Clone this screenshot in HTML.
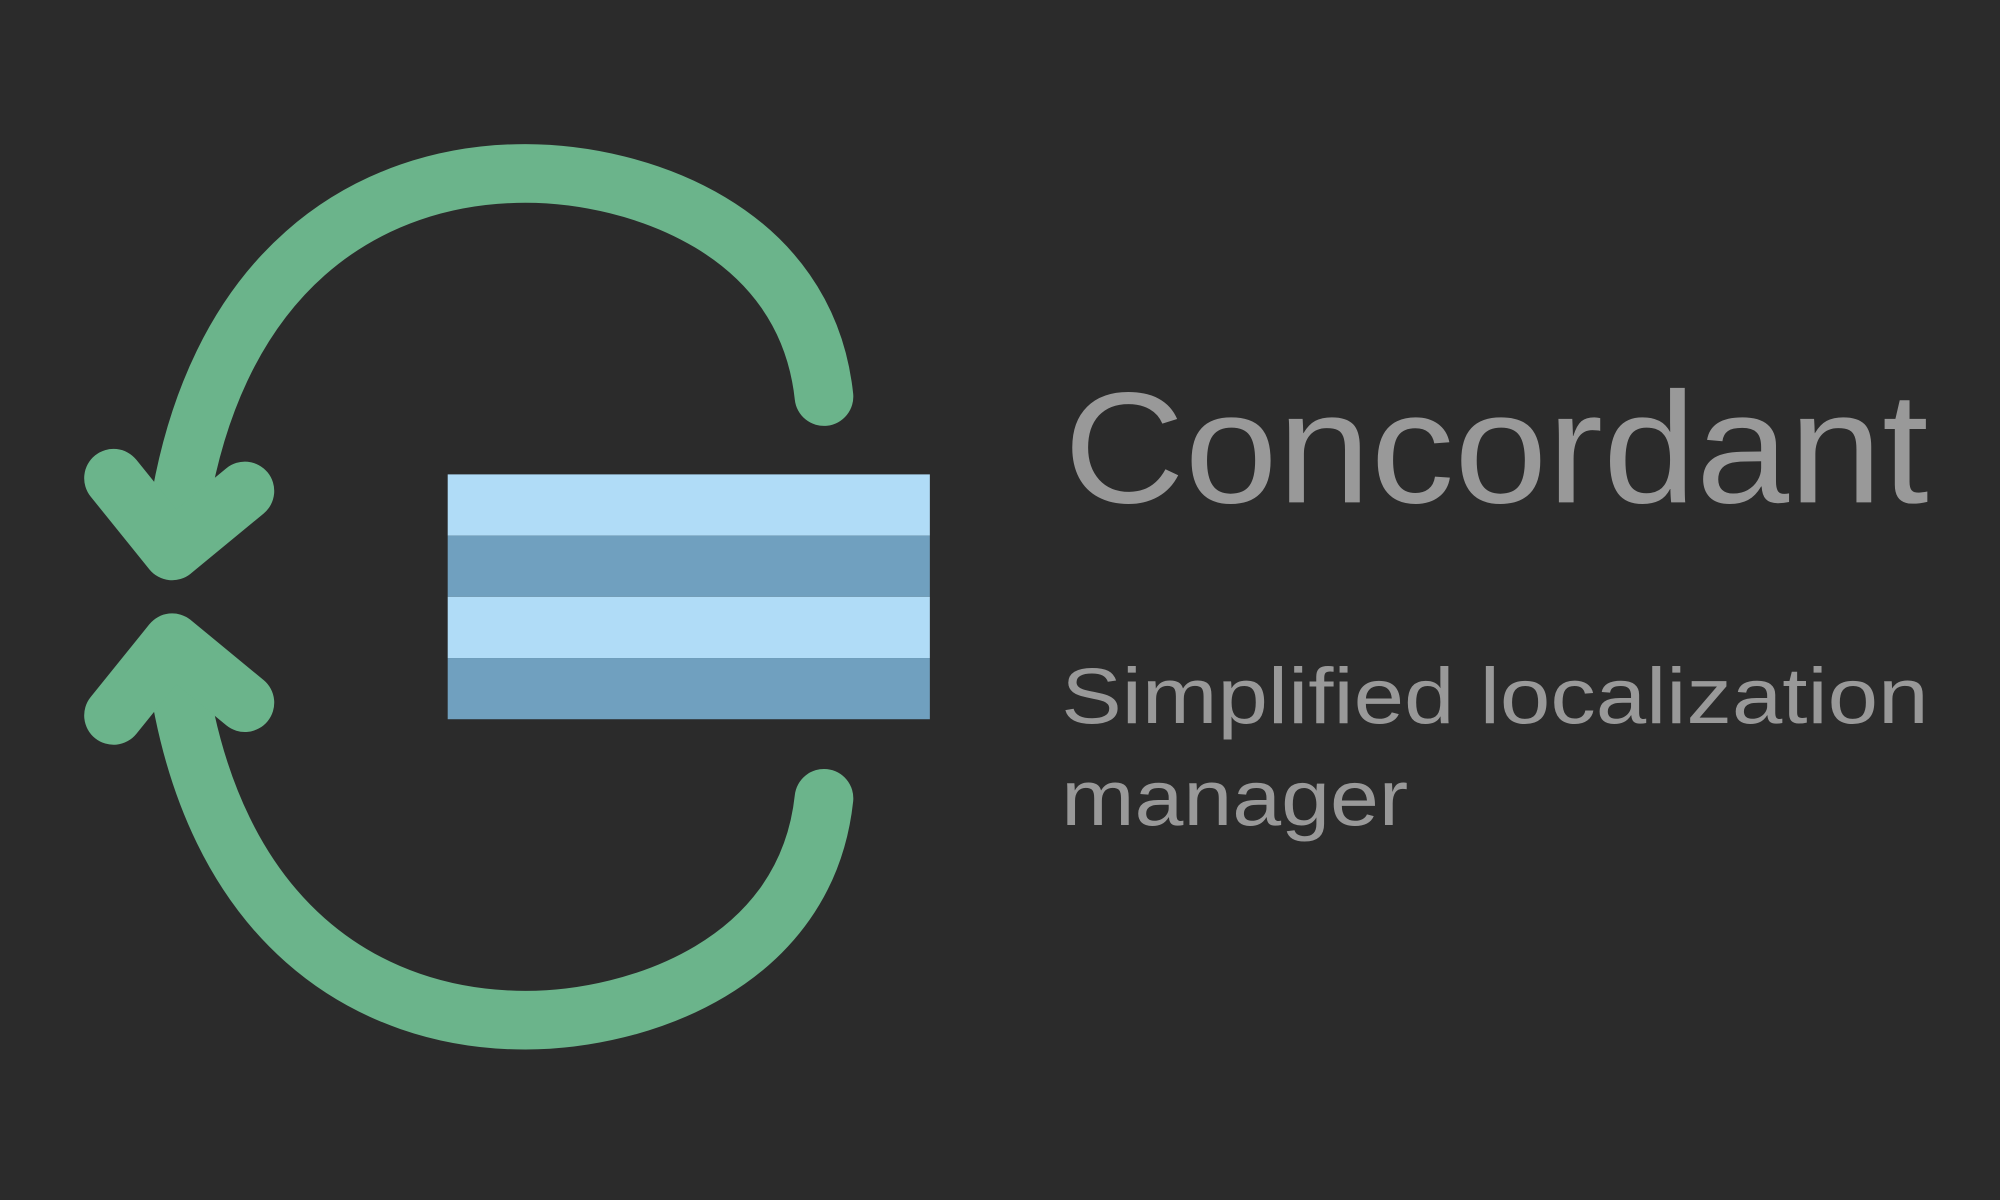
<!DOCTYPE html>
<html><head><meta charset="utf-8"><style>
html,body{margin:0;padding:0;background:#2b2b2b;width:2000px;height:1200px;overflow:hidden}
svg{display:block}
</style></head><body>
<svg width="2000" height="1200" viewBox="0 0 1568 941" preserveAspectRatio="none" xmlns="http://www.w3.org/2000/svg">
<rect width="1568" height="941" fill="#2b2b2b"/>
<g fill="none" stroke="#6bb48b" stroke-width="46" stroke-linecap="round" stroke-linejoin="round">
<path d="M646,311 C632,180 500,136 412,136 C290,136 165,210 138,415"/>
<polyline points="89,375 135,432 192,385"/>
<path d="M646,626 C632,756 500,800 412,800 C290,800 165,726 138,521"/>
<polyline points="89,561 135,504 192,551"/>
</g>
<rect x="351" y="372" width="378" height="48" fill="#b0dcf7"/>
<rect x="351" y="420" width="378" height="48" fill="#70a0bf"/>
<rect x="351" y="468" width="378" height="48" fill="#b0dcf7"/>
<rect x="351" y="516" width="378" height="48" fill="#70a0bf"/>
<g fill="#999999" font-family="Liberation Sans, sans-serif">
<text x="834" y="394" font-size="124" textLength="678" lengthAdjust="spacingAndGlyphs">Concordant</text>
<text x="832" y="567" font-size="62" textLength="680" lengthAdjust="spacingAndGlyphs">Simplified localization</text>
<text x="832" y="647" font-size="62" textLength="272" lengthAdjust="spacingAndGlyphs">manager</text>
</g>
</svg>
</body></html>
